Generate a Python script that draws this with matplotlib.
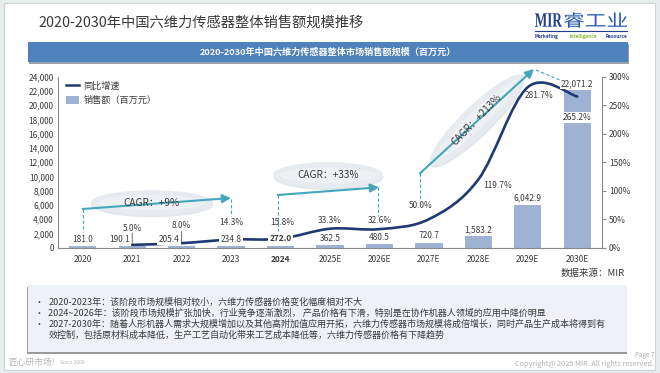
import numpy as np
import matplotlib
matplotlib.use("Agg")
import matplotlib.pyplot as plt
from matplotlib.patches import Rectangle, Ellipse, Patch, PathPatch
from matplotlib.lines import Line2D
from matplotlib.path import Path
from matplotlib.textpath import TextPath
from matplotlib.font_manager import FontProperties
from matplotlib.transforms import Affine2D

plt.rcParams['font.family'] = ['Noto Sans CJK SC', 'DejaVu Sans']

# data
years = ['2020', '2021', '2022', '2023', '2024', '2025E', '2026E',
         '2027E', '2028E', '2029E', '2030E']
sales = [181.0, 190.1, 205.4, 234.8, 272.0, 362.5, 480.5,
         720.7, 1583.2, 6042.9, 22071.2]
growth = [np.nan, 5.0, 8.0, 14.3, 15.8, 33.3, 32.6, 50.0, 119.7, 281.7, 265.2]

notes = [
    '2020-2023年：该阶段市场规模相对较小，六维力传感器价格变化幅度相对不大',
    '2024~2026年：该阶段市场规模扩张加快，行业竞争逐渐激烈， 产品价格有下滑，特别是在协作机器人领域的应用中降价明显',
    '2027-2030年：随着人形机器人需求大规模增加以及其他高附加值应用开拓，六维力传感器市场规模将成倍增长，同时产品生产成本将得到有',
    '效控制，包括原材料成本降低，生产工艺自动化带来工艺成本降低等，六维力传感器价格有下降趋势',
]

navy = '#1d3a72'
bar_c = '#9fb2d4'
teal = '#45a6bb'
txt = '#3a3a3a'

W, H = 660, 373
fig = plt.figure(figsize=(W / 100, H / 100), dpi=100, facecolor='#e7eded')

# background layer in pixel coordinates
bg = fig.add_axes([0, 0, 1, 1], zorder=0)
bg.set_xlim(0, W)
bg.set_ylim(H, 0)
bg.axis('off')
bg.add_patch(Rectangle((4, 3), 651, 367, facecolor='white', edgecolor='#cdd5d5', lw=0.8))


def fit_text(s, box, color, **font):
    # draw text as a path squeezed into a pixel box (x0, y0, x1, y1)
    tp = TextPath((0, 0), s, size=1, prop=FontProperties(**font))
    ext = tp.get_extents()
    x0, y0, x1, y1 = box
    sx = (x1 - x0) / ext.width
    sy = (y1 - y0) / ext.height
    tr = Affine2D().translate(-ext.x0, -ext.y0).scale(sx, -sy).translate(x0, y1)
    bg.add_patch(PathPatch(tr.transform_path(tp), facecolor=color, edgecolor='none'))


# title and logo
bg.text(38, 23, '2020-2030年中国六维力传感器整体销售额规模推移', fontsize=10.3,
        color=txt, va='center', ha='left')
fit_text('MIR', (535, 13.3, 562, 26.7), '#1f3f8f', family='Liberation Serif', weight='bold')
fit_text('睿工业', (564, 12.3, 627, 27.7), '#2a5caa', family='Noto Sans CJK SC')
bg.plot([535, 627], [31, 31], color='#1f3f8f', lw=0.8)
bg.text(535, 36.5, 'Marketing', fontsize=3.4, fontweight='bold', color='#1f3f8f', va='center')
bg.text(583, 36.5, 'Intelligence', fontsize=3.4, fontweight='bold', style='italic',
        color='#8ab832', va='center', ha='center')
bg.text(627, 36.5, 'Resource', fontsize=3.4, fontweight='bold', color='#1f3f8f',
        va='center', ha='right')

# banner
bg.add_patch(Rectangle((29, 43.5), 600, 20, facecolor='#9aa3ad', edgecolor='none'))
bg.add_patch(Rectangle((28, 41.7), 600, 20, facecolor='#4f81bd', edgecolor='none'))
bg.text(328, 51.7, '2020-2030年中国六维力传感器整体市场销售额规模（百万元）', fontsize=6.6,
        fontweight='bold', color='white', ha='center', va='center')


# CAGR decorations
def cagr(x0, y0, x1, y1, cx, cy, w, h, ang, label, rot):
    bg.annotate('', xy=(x1, y1), xytext=(x0, y0),
                arrowprops=dict(arrowstyle='-|>,head_length=0.5,head_width=0.25',
                                color=teal, lw=1.5, shrinkA=0, shrinkB=0))
    bg.add_patch(Ellipse((cx + 0.5, cy + 2), w, h, angle=ang, facecolor='#cdd3da',
                         edgecolor='none', alpha=0.55))
    bg.add_patch(Ellipse((cx, cy), w, h, angle=ang, facecolor='#e7ebf0', edgecolor='none'))
    bg.add_patch(Ellipse((cx, cy), w * 0.88, h * 0.6, angle=ang, facecolor='#eef1f4',
                         edgecolor='none'))
    bg.text(cx, cy, label, fontsize=7.2, color=txt, ha='center', va='center', rotation=rot)


cagr(82.7, 209, 231, 198, 151.7, 202.7, 122, 25, 0, 'CAGR：+9%', 0)
cagr(277.7, 195, 379, 187.3, 328, 175, 110, 26, 0, 'CAGR：+33%', 0)
cagr(420, 173.3, 534, 69, 476.7, 120, 128, 29, -44, 'CAGR：+213%', 46)

for x, ya, yb in [(82.7, 209, 232), (230.7, 199, 216), (277.7, 195, 231),
                  (378.3, 187, 216), (420, 173, 200)]:
    bg.plot([x, x], [ya, yb], color=teal, lw=0.8, ls=(0, (3, 2)))
bg.plot([536, 561], [70, 80.5], color=teal, lw=0.8, ls=(0, (3, 2)))

bg.text(625, 273.5, '数据来源：MIR', fontsize=6.8, color=txt, ha='right', va='center')

# notes box
bg.add_patch(Rectangle((27, 287), 600, 66.5, facecolor='#9a9a9a', edgecolor='none'))
bg.add_patch(Rectangle((28, 285), 599, 66.5, facecolor='#eef2f8', edgecolor='none'))
for i, line in enumerate(notes):
    yy = 302.3 + i * 11
    if i < 3:
        bg.text(38.5, yy, '•', fontsize=6.3, color=txt, va='center', ha='center')
    bg.text(48.3, yy, line, fontsize=6.5, color=txt, va='center', ha='left')

# footer
bg.text(8, 362, '匠心研市场!', fontsize=6.3, color='#b5b5b5', va='center')
bg.text(60, 362, 'Since 2006', fontsize=3.5, color='#b5b5b5', va='center')
bg.text(654, 355, 'Page 7', fontsize=4.5, color='#a5a5a5', va='center', ha='right')
bg.text(654, 364.5, 'Copyright@ 2025 MIR. All rights reserved.', fontsize=5.3,
        color='#b0b0b0', va='center', ha='right')

# chart axes
left, right, top, bottom = 58, 602, 76.7, 247.7
ax = fig.add_axes([left / W, 1 - bottom / H, (right - left) / W, (bottom - top) / H], zorder=2)
ax.patch.set_alpha(0)
x = np.arange(len(years))
ax.bar(x, sales, width=0.55, color=bar_c, zorder=2)
ax.set_xlim(-0.5, len(years) - 0.5)
ax.set_ylim(0, 24000)
ax.set_yticks(np.arange(0, 24001, 2000))
ax.set_yticklabels([f'{v:,}' for v in range(0, 24001, 2000)])
ax.set_xticks(x)
ax.set_xticklabels(years)
ax.tick_params(axis='both', length=0, labelsize=6, colors=txt, pad=3)
ax.tick_params(axis='x', pad=5)
ax.get_xticklabels()[4].set_fontweight('bold')
for s in ['top', 'right']:
    ax.spines[s].set_visible(False)
for s in ['left', 'bottom']:
    ax.spines[s].set_color('#8a8a8a')
    ax.spines[s].set_linewidth(0.8)

ax2 = ax.twinx()
ax2.patch.set_alpha(0)
ax2.set_ylim(0, 300)
ax2.set_yticks(np.arange(0, 301, 50))
ax2.set_yticklabels([f'{v}%' for v in range(0, 301, 50)])
ax2.tick_params(axis='y', length=3, width=0.8, labelsize=6, colors=txt, pad=2)
ax2.tick_params(axis='y', color='#8a8a8a')
for s in ['top', 'left', 'bottom']:
    ax2.spines[s].set_visible(False)
ax2.spines['right'].set_color('#8a8a8a')
ax2.spines['right'].set_linewidth(0.8)

# smoothed growth line (Catmull-Rom as cubic Bezier)
g = np.array(growth)
valid = ~np.isnan(g)
pts = np.column_stack([x[valid].astype(float), g[valid]])
ext = np.vstack([pts[0], pts, pts[-1]])
verts = [tuple(pts[0])]
codes = [Path.MOVETO]
for i in range(len(pts) - 1):
    p0, p1, p2, p3 = ext[i], ext[i + 1], ext[i + 2], ext[i + 3]
    c1 = p1 + (p2 - p0) / 6
    c2 = p2 - (p3 - p1) / 6
    verts += [tuple(c1), tuple(c2), tuple(p2)]
    codes += [Path.CURVE4] * 3
ax2.add_patch(PathPatch(Path(verts, codes), facecolor='none', edgecolor=navy,
                        lw=1.9, zorder=3, capstyle='round'))

# growth labels (offsets in points)
g_off = {1: (0, 12), 2: (0, 12.5), 3: (0, 12.5), 4: (1, 12), 5: (0, 6), 6: (0, 6),
         7: (-6, 10), 8: (14, -4.7), 9: (8, -6.2), 10: (0, -15)}
for i, (dx, dy) in g_off.items():
    bb = dict(boxstyle='square,pad=0.1', fc='white', ec='none') if i == 10 else None
    ax2.annotate(f'{growth[i]:.1f}%', (x[i], growth[i]), xytext=(dx, dy),
                 textcoords='offset points', ha='center', va='center', fontsize=6,
                 color=txt, bbox=bb, zorder=5)
# leader lines for 2021 / 2022
for i in (1, 2):
    ax2.annotate('', xy=(x[i], growth[i]), xytext=(0, 8.5), textcoords='offset points',
                 arrowprops=dict(arrowstyle='-', color='#555555', lw=0.6,
                                 shrinkA=0, shrinkB=1))

# bar value labels on top of the line
b_dx = {1: -9, 2: -9}
for i, v in enumerate(sales):
    ax2.annotate(f'{v:,.1f}', (x[i], v), xycoords=ax.transData,
                 xytext=(b_dx.get(i, 0), 5), textcoords='offset points',
                 ha='center', va='center', fontsize=6, color=txt,
                 fontweight='bold' if i == 4 else 'normal',
                 bbox=dict(boxstyle='square,pad=0.15', fc='white', ec='none'), zorder=6)

# legend
handles = [Line2D([0], [0], color=navy, lw=1.8),
           Patch(facecolor=bar_c, edgecolor='none')]
ax2.legend(handles, ['同比增速', '销售额（百万元）'], loc='upper left',
           bbox_to_anchor=(0.0, 1.02), frameon=False, fontsize=6.6, handlelength=1.4,
           handleheight=0.9, handletextpad=0.5, labelspacing=0.55, labelcolor=txt)

fig.savefig('out.png', dpi=100, facecolor=fig.get_facecolor())
